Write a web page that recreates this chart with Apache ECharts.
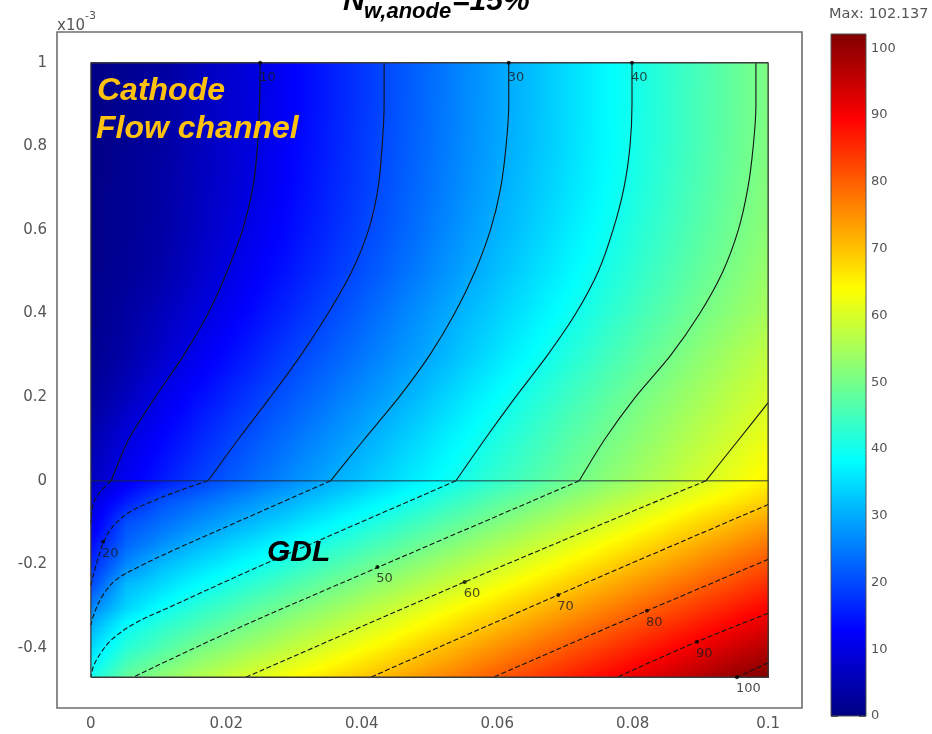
<!DOCTYPE html>
<html><head><meta charset="utf-8">
<script src="https://cdn.jsdelivr.net/npm/echarts@6/dist/echarts.min.js"></script>
<style>html,body{margin:0;padding:0;background:#fff;}#c{width:932px;height:734px;}</style>
</head><body><div id="c"></div>
<script>
// ---------- data ----------
const xNodes = [0,0.005,0.01,0.015,0.02,0.025,0.03,0.035,0.04,0.045,0.05,0.055,0.06,0.065,0.07,0.075,0.08,0.085,0.09,0.095,0.1];
const yNodes = [1.0,0.9,0.8,0.7,0.6,0.5,0.4,0.3,0.2,0.1,0.0,-0.05,-0.1,-0.15,-0.2,-0.25,-0.3,-0.35,-0.4,-0.47];
const fieldValues = [
 [0.5,1.8,3.0,5.3,7.7,10.0,12.7,15.5,18.2,20.9,23.6,26.3,29.1,31.8,34.6,37.4,40.1,42.8,45.5,48.3,51.0],
 [0.5,1.8,3.1,5.4,7.8,10.1,12.8,15.5,18.2,20.9,23.7,26.4,29.1,31.8,34.6,37.4,40.1,42.9,45.6,48.3,51.0],
 [0.5,1.9,3.2,5.5,7.8,10.2,12.9,15.7,18.5,21.2,23.9,26.6,29.3,32.0,34.7,37.5,40.2,43.0,45.7,48.5,51.2],
 [0.6,2.0,3.4,5.7,8.1,10.5,13.3,16.1,18.8,21.6,24.3,27.0,29.8,32.5,35.2,37.9,40.7,43.5,46.2,49.0,51.7],
 [0.7,2.1,3.6,6.1,8.7,11.3,14.0,16.7,19.5,22.2,25.0,27.8,30.6,33.3,36.1,38.8,41.6,44.3,47.0,49.7,52.4],
 [0.9,2.4,4.0,6.9,9.8,12.5,15.2,17.9,20.6,23.4,26.2,29.0,31.8,34.6,37.3,40.1,42.8,45.5,48.2,50.9,53.5],
 [1.2,3.3,5.7,8.6,11.4,14.2,17.0,19.8,22.6,25.4,28.2,31.0,33.7,36.4,39.1,41.8,44.6,47.3,50.0,52.5,55.0],
 [1.6,4.0,7.3,10.6,13.5,16.4,19.4,22.0,24.6,27.2,29.8,32.7,35.6,38.5,41.3,44.1,46.9,49.7,52.4,55.0,57.6],
 [2.5,6.0,10.3,13.3,16.2,19.2,21.9,24.5,27.1,29.7,32.6,35.6,38.5,41.3,44.1,46.9,49.7,52.3,54.8,57.3,59.8],
 [4.5,9.3,12.7,15.8,19.0,21.8,24.5,27.1,29.8,32.6,35.5,38.3,41.1,43.8,46.6,49.3,51.9,54.5,57.1,59.6,62.2],
 [6.5,11.4,14.9,18.4,21.5,24.2,27.0,29.8,32.4,35.2,37.9,40.6,43.4,46.0,48.8,51.6,54.2,56.8,59.6,62.2,64.9],
 [9.5,15.4,20.6,23.1,25.7,28.3,30.9,33.6,36.3,39.0,41.8,44.5,47.3,50.0,52.7,55.3,58.0,60.7,63.4,66.0,68.7],
 [10.3,20.6,23.5,26.4,29.3,32.0,34.7,37.4,40.2,42.9,45.7,48.4,51.1,53.8,56.5,59.1,62.0,64.9,67.8,70.7,73.4],
 [13.5,22.6,26.6,30.4,33.2,35.9,38.7,41.3,44.0,46.7,49.5,52.2,54.9,57.6,60.3,63.2,66.1,69.1,71.9,74.6,77.4],
 [16.5,26.1,31.3,34.1,36.9,39.7,42.5,45.2,47.9,50.7,53.4,56.1,58.7,61.5,64.4,67.3,70.3,73.0,75.8,78.6,81.3],
 [20.0,31.3,34.5,37.8,40.9,43.6,46.4,49.1,51.8,54.5,57.2,59.8,62.7,65.6,68.6,71.4,74.2,77.0,79.7,82.4,85.2],
 [25.5,33.7,38.3,41.8,44.6,47.5,50.3,52.9,55.6,58.3,61.1,64.0,66.9,69.8,72.6,75.3,78.1,80.9,83.6,86.3,89.0],
 [30.5,38.8,42.6,45.5,48.5,51.3,54.0,56.7,59.4,62.2,65.1,68.0,70.9,73.7,76.5,79.2,82.0,84.7,87.4,90.1,92.9],
 [34.5,42.1,45.9,49.6,52.4,55.0,57.8,60.5,63.4,66.3,69.3,72.1,74.9,77.7,80.4,83.1,85.8,88.6,91.3,94.1,96.9],
 [40.0,48.1,52.3,55.3,58.3,61.1,63.9,66.6,69.3,72.0,74.7,77.5,80.3,83.0,85.8,88.5,91.2,94.0,96.9,99.7,102.1]
];
const fieldMax = 102.137;

// contour lines in the flow channel (upper part)
const contour10Upper = [[0.0030,0],[0.0056,0.1],[0.0095,0.2],[0.0137,0.3],[0.0173,0.4],[0.0201,0.5],[0.0224,0.6],[0.0239,0.7],[0.0246,0.8],[0.0249,0.9],[0.0250,1.0]];
const contour20Upper = [[0.0173,0],[0.0218,0.1],[0.0265,0.2],[0.0310,0.3],[0.0350,0.4],[0.0385,0.5],[0.0410,0.6],[0.0424,0.7],[0.0430,0.8],[0.0433,0.9],[0.0433,1.0]];
const contour30Upper = [[0.0354,0],[0.0404,0.1],[0.0455,0.2],[0.0500,0.3],[0.0537,0.4],[0.0567,0.5],[0.0590,0.6],[0.0605,0.7],[0.0613,0.8],[0.0617,0.9],[0.0617,1.0]];
const contour40Upper = [[0.0539,0],[0.0582,0.1],[0.0627,0.2],[0.0674,0.3],[0.0716,0.4],[0.0749,0.5],[0.0771,0.6],[0.0787,0.7],[0.0796,0.8],[0.0799,0.9],[0.0799,1.0]];
const contour50Upper = [[0.0721,0],[0.0759,0.1],[0.0804,0.2],[0.0856,0.3],[0.0899,0.4],[0.0933,0.5],[0.0956,0.6],[0.0970,0.7],[0.0978,0.8],[0.0982,0.9],[0.0982,1.0]];
const contour60Upper = [[0.0908,0],[0.0953,0.091],[0.1,0.187]];
// contour lines in the GDL (lower part)
const contour10Lower = [[0.0030,0],[0.0015,-0.024],[0.0004,-0.053],[0.0001,-0.080],[0,-0.106]];
const contour20Lower = [[0.0173,0],[0.0133,-0.022],[0.0089,-0.050],[0.0055,-0.077],[0.0032,-0.110],[0.0019,-0.146],[0.0010,-0.189],[0.0003,-0.230],[0,-0.25]];
const contour30Lower = [[0.0354,0],[0.0249,-0.075],[0.0133,-0.158],[0.0074,-0.203],[0.0037,-0.237],[0.0018,-0.273],[0.0006,-0.313],[0,-0.345]];
const contour40Lower = [[0.0539,0],[0.0369,-0.120],[0.0240,-0.211],[0.0114,-0.304],[0.0066,-0.340],[0.0032,-0.378],[0.0015,-0.411],[0.0004,-0.443],[0,-0.469]];
const contour50Lower = [[0.0721,0],[0.0424,-0.207],[0.0200,-0.365],[0.0062,-0.47]];
const contour60Lower = [[0.0908,0],[0.0552,-0.242],[0.0229,-0.47]];
const contour70Lower = [[0.1,-0.057],[0.0690,-0.273],[0.0413,-0.47]];
const contour80Lower = [[0.1,-0.188],[0.0821,-0.311],[0.0594,-0.47]];
const contour90Lower = [[0.1,-0.317],[0.0895,-0.385],[0.0777,-0.47]];
const contour100Lower = [[0.1,-0.435],[0.0954,-0.47]];

// labelled points on contours: [x, y, level]
const topLabelPoints = [[0.0250,1.0,10],[0.0617,1.0,30],[0.0799,1.0,40]];
const gdlLabelPoints = [[0.0018,-0.146,20],[0.0423,-0.206,50],[0.0552,-0.242,60],[0.0690,-0.273,70],[0.0821,-0.311,80],[0.0895,-0.385,90],[0.0954,-0.47,100]];

const interfaceLine = [[0,0],[0.1,0]];
const domainOutline = [[0,-0.47],[0.1,-0.47],[0.1,1.0],[0,1.0],[0,-0.47]];

const xTickValues = [0,0.02,0.04,0.06,0.08,0.1];
const xTickLabels = ['0','0.02','0.04','0.06','0.08','0.1'];
const yTickValues = [1,0.8,0.6,0.4,0.2,0,-0.2,-0.4];
const yTickLabels = ['1','0.8','0.6','0.4','0.2','0','-0.2','-0.4'];
const colorbarTicks = [0,10,20,30,40,50,60,70,80,90,100];
const colorbarLabels = ['0','10','20','30','40','50','60','70','80','90','100'];

// ---------- rendering ----------
function jetRGB(v){
  let t = Math.max(0, Math.min(1, v / fieldMax));
  let r, g, b;
  if (t < 0.125) { r = 0; g = 0; b = 0.5 + 4 * t; }
  else if (t < 0.375) { r = 0; g = 4 * (t - 0.125); b = 1; }
  else if (t < 0.625) { r = 4 * (t - 0.375); g = 1; b = 1 - 4 * (t - 0.375); }
  else if (t < 0.875) { r = 1; g = 1 - 4 * (t - 0.625); b = 0; }
  else { r = 1 - 4 * (t - 0.875); g = 0; b = 0; }
  return 'rgb(' + Math.round(r*255) + ',' + Math.round(g*255) + ',' + Math.round(b*255) + ')';
}
function lookupLabel(values, labels, v){
  let best = 0;
  for (let i = 1; i < values.length; i++) if (Math.abs(values[i]-v) < Math.abs(values[best]-v)) best = i;
  return labels[best];
}

const cells = [];
for (let r = 0; r < yNodes.length - 1; r++) {
  for (let c = 0; c < xNodes.length - 1; c++) {
    cells.push([xNodes[c], xNodes[c+1], yNodes[r], yNodes[r+1],
      fieldValues[r][c], fieldValues[r][c+1], fieldValues[r+1][c], fieldValues[r+1][c+1]]);
  }
}

function renderCell(params, api){
  const p0 = api.coord([api.value(0), api.value(2)]);
  const p1 = api.coord([api.value(1), api.value(3)]);
  const vTL = api.value(4), vTR = api.value(5), vBL = api.value(6), vBR = api.value(7);
  const h = p1[1] - p0[1];
  const xa = Math.round(p0[0]), xb = Math.round(p1[0]);
  const K = Math.max(2, Math.ceil(h / 2.5));
  const children = [];
  for (let k = 0; k < K; k++) {
    const t = (k + 0.5) / K;
    const vl = vTL + (vBL - vTL) * t, vr = vTR + (vBR - vTR) * t;
    const ya = Math.round(p0[1] + h * k / K), yb = Math.round(p0[1] + h * (k + 1) / K);
    if (yb <= ya) continue;
    const stops = [];
    for (let s = 0; s <= 6; s++) { const f = s / 6; stops.push({offset: f, color: jetRGB(vl + (vr - vl) * f)}); }
    children.push({type: 'rect', silent: true,
      shape: {x: xa, y: ya, width: xb - xa + 1, height: yb - ya + 1},
      style: {fill: {type: 'linear', x: 0, y: 0, x2: 1, y2: 0, colorStops: stops}}});
  }
  return {type: 'group', children: children};
}

function renderColorbar(params, api){
  const a = api.coord([api.value(0), api.value(3)]);
  const b = api.coord([api.value(1), api.value(2)]);
  const stops = [];
  for (let i = 0; i <= 16; i++) { const f = i / 16; stops.push({offset: f, color: jetRGB((1 - f) * fieldMax)}); }
  return {type: 'rect', shape: {x: a[0], y: a[1], width: b[0]-a[0], height: b[1]-a[1]},
    style: {fill: {type: 'linear', x: 0, y: 0, x2: 0, y2: 1, colorStops: stops}, stroke: '#555', lineWidth: 1}};
}

const upperContours = [contour10Upper, contour20Upper, contour30Upper, contour40Upper, contour50Upper, contour60Upper];
const lowerContours = [contour10Lower, contour20Lower, contour30Lower, contour40Lower, contour50Lower, contour60Lower, contour70Lower, contour80Lower, contour90Lower, contour100Lower];

const series = [];
series.push({type: 'custom', xAxisIndex: 0, yAxisIndex: 0, renderItem: renderCell, data: cells, z: 1, silent: true, clip: true});
upperContours.forEach(d => series.push({type: 'line', xAxisIndex: 0, yAxisIndex: 0, data: d, smooth: 0.25, symbol: 'none', z: 3, silent: true,
  lineStyle: {color: '#151515', width: 1.1}}));
lowerContours.forEach(d => series.push({type: 'line', xAxisIndex: 0, yAxisIndex: 0, data: d, smooth: 0.35, symbol: 'none', z: 3, silent: true,
  lineStyle: {color: '#151515', width: 1.1, type: [5, 2.5]}}));
series.push({type: 'line', xAxisIndex: 0, yAxisIndex: 0, data: interfaceLine, symbol: 'none', z: 4, silent: true,
  lineStyle: {color: 'rgba(30,40,50,0.6)', width: 1.6}});
series.push({type: 'line', xAxisIndex: 0, yAxisIndex: 0, data: domainOutline, symbol: 'none', z: 4, silent: true,
  lineStyle: {color: '#3a3a3a', width: 1.3}});
const labelFont = {color: '#1a1a1a', fontSize: 13, fontFamily: 'DejaVu Sans', align: 'left', verticalAlign: 'top'};
series.push({type: 'scatter', xAxisIndex: 0, yAxisIndex: 0, data: topLabelPoints, symbolSize: 4, z: 5, silent: true,
  itemStyle: {color: '#000'}, label: Object.assign({show: true, position: [1, 10], formatter: p => String(p.value[2])}, labelFont)});
series.push({type: 'scatter', xAxisIndex: 0, yAxisIndex: 0, data: gdlLabelPoints, symbolSize: 4, z: 5, silent: true,
  itemStyle: {color: '#000'}, label: Object.assign({show: true, position: [1, 7], formatter: p => String(p.value[2])}, labelFont)});
series.push({type: 'custom', xAxisIndex: 1, yAxisIndex: 1, renderItem: renderColorbar, data: [[0, 1, 0, fieldMax]], z: 1, silent: true});

const axisFont = {color: '#555', fontSize: 15, fontFamily: 'DejaVu Sans'};

const option = {
  animation: false,
  backgroundColor: '#fff',
  grid: [
    {left: 57, top: 32, width: 745, height: 676, show: true, borderColor: '#6e6e6e', borderWidth: 1.6, backgroundColor: 'transparent'},
    {left: 831, top: 34, width: 35, height: 682, show: false}
  ],
  xAxis: [
    {gridIndex: 0, type: 'value', min: -0.005, max: 0.105, axisLine: {show: false}, axisTick: {show: false}, splitLine: {show: false},
      axisLabel: Object.assign({customValues: xTickValues, margin: 9, formatter: v => lookupLabel(xTickValues, xTickLabels, v)}, axisFont)},
    {gridIndex: 1, type: 'value', min: 0, max: 1, show: false}
  ],
  yAxis: [
    {gridIndex: 0, type: 'value', min: -0.5435, max: 1.0735, axisLine: {show: false}, axisTick: {show: false}, splitLine: {show: false},
      axisLabel: Object.assign({customValues: yTickValues, margin: 10, formatter: v => lookupLabel(yTickValues, yTickLabels, v)}, axisFont)},
    {gridIndex: 1, type: 'value', min: 0, max: fieldMax, position: 'left', axisLine: {show: false}, splitLine: {show: false},
      axisTick: {show: true, inside: true, length: 7, customValues: colorbarTicks, lineStyle: {color: '#111', width: 1.5}}, axisLabel: {show: false}},
    {gridIndex: 1, type: 'value', min: 0, max: fieldMax, position: 'right', axisLine: {show: false}, splitLine: {show: false},
      axisTick: {show: true, inside: true, length: 7, customValues: colorbarTicks, lineStyle: {color: '#111', width: 1.5}},
      axisLabel: {customValues: colorbarTicks, margin: 5, color: '#555', fontSize: 13, fontFamily: 'DejaVu Sans',
        formatter: v => lookupLabel(colorbarTicks, colorbarLabels, v)}}
  ],
  graphic: [
    {type: 'text', z: 100, style: {x: 343, y: 1.5, text: 'N', font: 'italic bold 30px "Liberation Sans", Arial, sans-serif', fill: '#000', align: 'left', verticalAlign: 'middle'}},
    {type: 'text', z: 100, style: {x: 364, y: 11.5, text: 'w,anode', font: 'italic bold 22px "Liberation Sans", Arial, sans-serif', fill: '#000', align: 'left', verticalAlign: 'middle'}},
    {type: 'text', z: 100, style: {x: 452, y: 1.5, text: '=15%', font: 'italic bold 30px "Liberation Sans", Arial, sans-serif', fill: '#000', align: 'left', verticalAlign: 'middle'}},
    {type: 'text', z: 100, style: {x: 57, y: 26, text: 'x10', font: '15px "DejaVu Sans"', fill: '#555', align: 'left', verticalAlign: 'middle'}},
    {type: 'text', z: 100, style: {x: 85, y: 16, text: '-3', font: '11px "DejaVu Sans"', fill: '#555', align: 'left', verticalAlign: 'middle'}},
    {type: 'text', z: 100, style: {x: 829, y: 14, text: 'Max: 102.137', font: '14.5px "DejaVu Sans"', fill: '#555', align: 'left', verticalAlign: 'middle'}},
    {type: 'text', z: 100, style: {x: 97, y: 91, text: 'Cathode', font: 'italic bold 32px "Liberation Sans", Arial, sans-serif', fill: '#FFC20E', align: 'left', verticalAlign: 'middle'}},
    {type: 'text', z: 100, style: {x: 96, y: 129, text: 'Flow channel', font: 'italic bold 32px "Liberation Sans", Arial, sans-serif', fill: '#FFC20E', align: 'left', verticalAlign: 'middle'}},
    {type: 'text', z: 100, style: {x: 267, y: 553, text: 'GDL', font: 'italic bold 30px "Liberation Sans", Arial, sans-serif', fill: '#000', align: 'left', verticalAlign: 'middle'}}
  ],
  series: series
};
const chart = echarts.init(document.getElementById('c'), null, {renderer: 'canvas'});
chart.setOption(option);
</script>
</body></html>
